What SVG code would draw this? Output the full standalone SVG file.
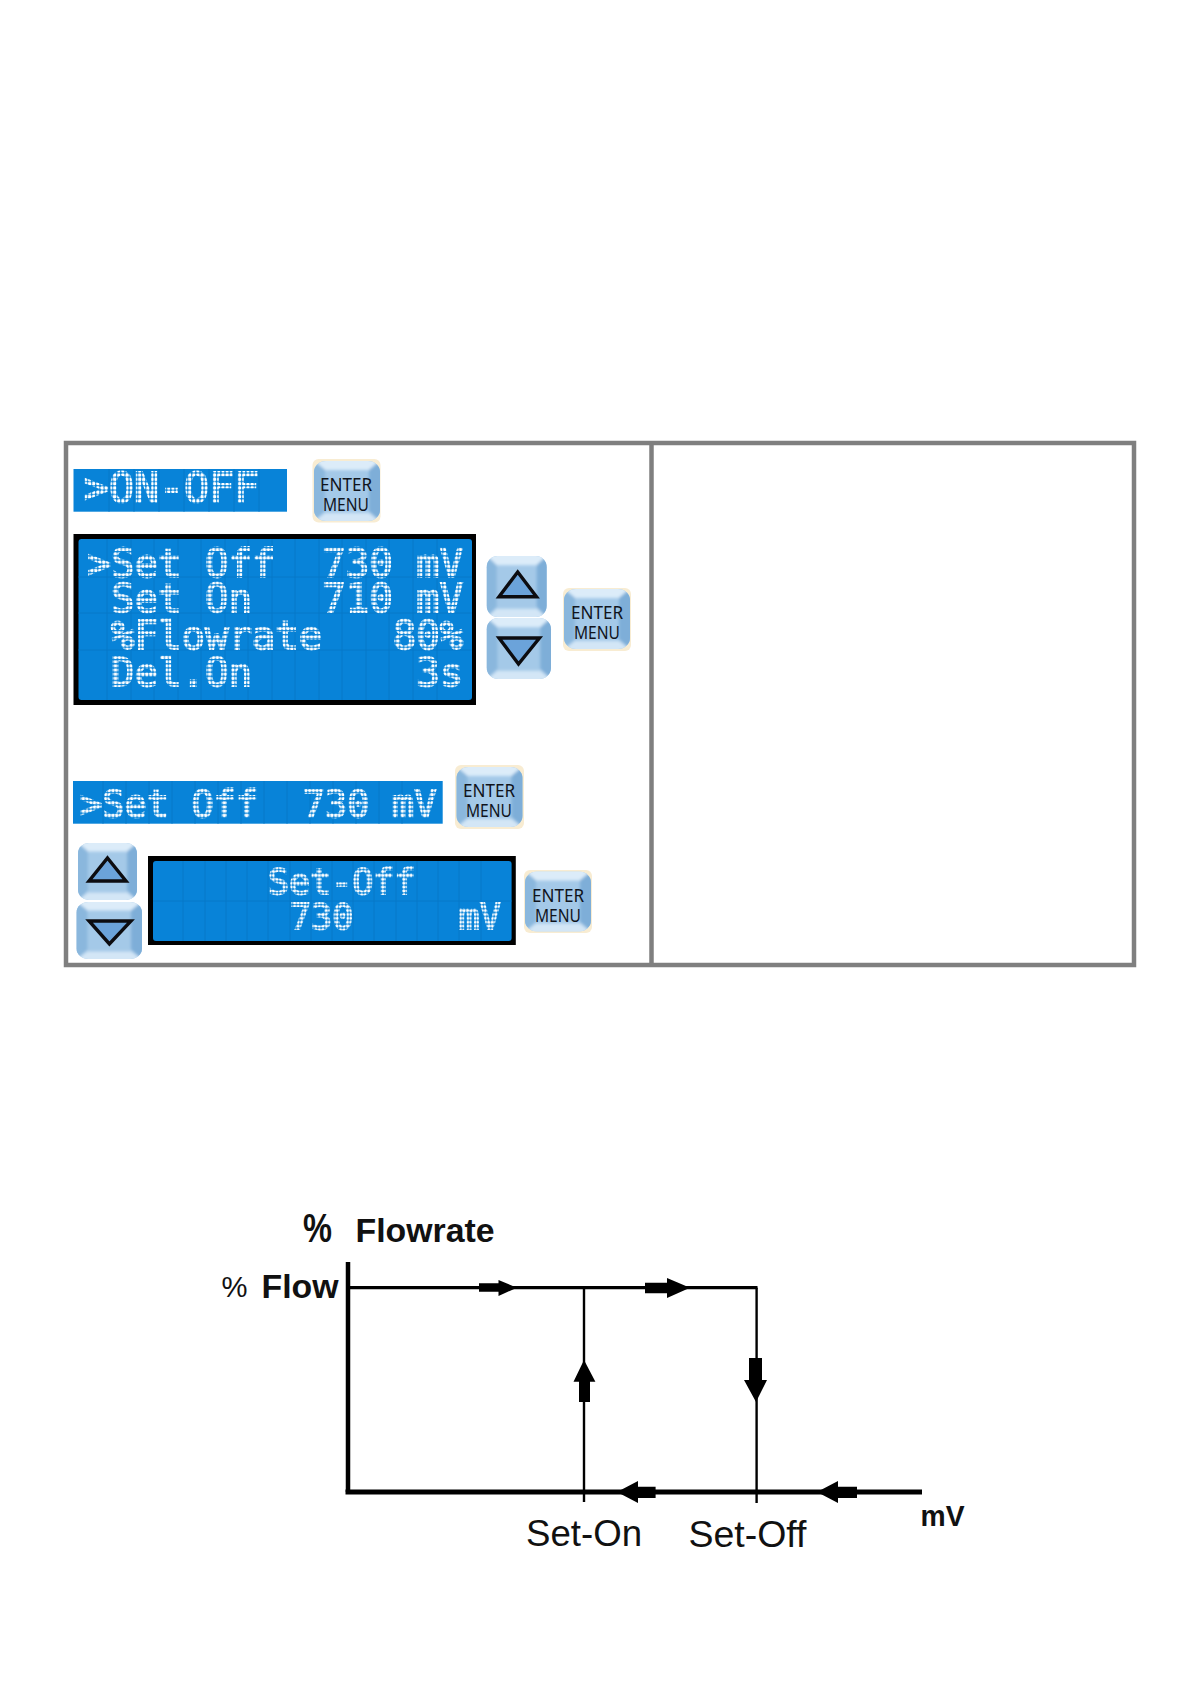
<svg xmlns="http://www.w3.org/2000/svg" width="1191" height="1684" viewBox="0 0 1191 1684">
<style>
.lcd{stroke-width:1.9;font-family:"DejaVu Sans Mono",monospace;white-space:pre;filter:url(#soft)}
.p1{fill:url(#d1);stroke:url(#d1)}
.p2{fill:url(#d2);stroke:url(#d2)}
.p3{fill:url(#d3);stroke:url(#d3)}
.p4{fill:url(#d4);stroke:url(#d4)}
.lcdbg{fill:#0883d8}
.grid{stroke:#0678c8;stroke-width:1;fill:none}
.btxt{font-family:"Noto Sans",sans-serif;font-size:17.5px;fill:#10141c;text-anchor:middle}
.tri{fill:#6ba3da;stroke:#0c0c10;stroke-width:3.4;stroke-linejoin:miter}
.lab{font-family:"Liberation Sans",Arial,sans-serif;fill:#111}
.b{font-weight:bold}
.fr{fill:none;stroke:#7f7f7f;stroke-width:4.5}
.ax{fill:none;stroke:#000}
</style>
<defs>
<pattern id="d1" patternUnits="userSpaceOnUse" width="3.92" height="4.15"><rect x="0.3" y="0.4" width="3" height="3" rx="0.9" fill="#fff"/></pattern>
<pattern id="d2" patternUnits="userSpaceOnUse" width="4.17" height="4.3"><rect x="0.4" y="0.5" width="3.1" height="3.1" rx="0.9" fill="#fff"/></pattern>
<pattern id="d3" patternUnits="userSpaceOnUse" width="3.71" height="4.15"><rect x="0.3" y="0.4" width="2.9" height="3" rx="0.9" fill="#fff"/></pattern>
<pattern id="d4" patternUnits="userSpaceOnUse" width="3.53" height="3.9"><rect x="0.3" y="0.4" width="2.7" height="2.8" rx="0.9" fill="#fff"/></pattern>
<filter id="soft" x="-5%" y="-20%" width="110%" height="140%"><feGaussianBlur stdDeviation="0.22"/></filter>
<filter id="bev" x="-10%" y="-10%" width="120%" height="120%"><feGaussianBlur stdDeviation="1.6"/></filter>
<clipPath id="bc"><rect x="0" y="0" width="60" height="60" rx="11"/></clipPath>
<symbol id="btn" viewBox="0 0 60 60" preserveAspectRatio="none">
<g clip-path="url(#bc)">
<rect x="0" y="0" width="60" height="60" fill="#a4c9e8"/>
<g filter="url(#bev)">
<path d="M-4 -4H64L50 9H10Z" fill="#dcecf9"/>
<path d="M-4 -4L10 9V50L-4 64Z" fill="#8ab7dd"/>
<path d="M64 -4L50 9V50L64 64Z" fill="#7eaed8"/>
<path d="M-4 64L10 52H50L64 64Z" fill="#d3e6f6"/>
</g>
</g>
</symbol>
</defs>
<rect width="1191" height="1684" fill="#fff"/>
<g id="table">
<rect class="fr" x="66" y="443" width="1068" height="522"/>
<line class="fr" x1="651.500" y1="443" x2="651.500" y2="965"/>
</g>
<g id="lcd-on-off">
<rect class="lcdbg" x="73.500" y="469" width="213.500" height="42.700"/>
<path class="grid" d="M109 469V511.700M134 469V511.700M159 469V511.700M184 469V511.700M209 469V511.700M234 469V511.700M259 469V511.700"/>
<text class="lcd p2" x="84" y="501.700" font-size="41.500">&gt;ON-OFF</text>
</g>
<g id="enter-1">
<rect x="312.500" y="459" width="68" height="63.500" rx="6" fill="#f8ecd2"/>
<use href="#btn" x="314" y="461" width="66" height="60"/>
<text class="btxt" x="346" y="491" textLength="52" lengthAdjust="spacingAndGlyphs">ENTER</text><text class="btxt" x="346" y="511" textLength="46" lengthAdjust="spacingAndGlyphs">MENU</text>
</g>
<g id="lcd-main">
<rect x="73.500" y="534" width="402.500" height="171" fill="#000"/>
<rect class="lcdbg" x="78.500" y="539" width="393.500" height="161" rx="3"/>
<path class="grid" d="M78.500 577H472M78.500 613H472M78.500 650H472M107 539V700M131 539V700M154 539V700M178 539V700M201 539V700M225 539V700M248 539V700M272 539V700M295 539V700M319 539V700M342 539V700M366 539V700M389 539V700M413 539V700M437 539V700"/>
<text class="lcd p1" x="87.500" y="576.700" font-size="39">&gt;Set Off  730 mV</text>
<text class="lcd p1" x="87.500" y="611.700" font-size="39"> Set On   710 mV</text>
<text class="lcd p1" x="87.500" y="649" font-size="39"> %Flowrate   80%</text>
<text class="lcd p1" x="87.500" y="685.700" font-size="39"> Del.On       3s</text>
</g>
<g id="up-1">
<use href="#btn" x="486.700" y="556" width="60" height="61"/>
<path class="tri" d="M517.700 572L536.500 596.700H499Z"/>
</g>
<g id="down-1">
<use href="#btn" x="486.700" y="618" width="64.300" height="61"/>
<path class="tri" d="M499 638H539.500L518.500 664Z"/>
</g>
<g id="enter-2">
<rect x="563" y="588" width="68" height="63" rx="6" fill="#f8ecd2"/>
<use href="#btn" x="564" y="589" width="66" height="60"/>
<text class="btxt" x="597" y="619" textLength="52" lengthAdjust="spacingAndGlyphs">ENTER</text><text class="btxt" x="597" y="639" textLength="46" lengthAdjust="spacingAndGlyphs">MENU</text>
</g>
<g id="lcd-set-off">
<rect class="lcdbg" x="73" y="781" width="369.700" height="42.700"/>
<path class="grid" d="M103 781V823.700M126 781V823.700M149 781V823.700M172 781V823.700M195 781V823.700M218 781V823.700M241 781V823.700M264 781V823.700M287 781V823.700M310 781V823.700M333 781V823.700M356 781V823.700M379 781V823.700M402 781V823.700"/>
<text class="lcd p3" x="80" y="816.700" font-size="37">&gt;Set Off  730 mV</text>
</g>
<g id="enter-3">
<rect x="455" y="765" width="69" height="64" rx="6" fill="#f8ecd2"/>
<use href="#btn" x="456.500" y="767" width="66" height="60"/>
<text class="btxt" x="489" y="797" textLength="52" lengthAdjust="spacingAndGlyphs">ENTER</text><text class="btxt" x="489" y="817" textLength="46" lengthAdjust="spacingAndGlyphs">MENU</text>
</g>
<g id="up-2">
<use href="#btn" x="78" y="843" width="59" height="57"/>
<path class="tri" d="M107.500 858L126 881H89Z"/>
</g>
<g id="down-2">
<use href="#btn" x="76.500" y="902" width="65.500" height="57"/>
<path class="tri" d="M89 921H131L109.400 944Z"/>
</g>
<g id="lcd-edit">
<rect x="148" y="856" width="367.800" height="89" fill="#000"/>
<rect class="lcdbg" x="153" y="861" width="358.600" height="80" rx="3"/>
<path class="grid" d="M153 901H511.600M183 861V941M205 861V941M226 861V941M247 861V941M268 861V941M290 861V941M311 861V941M332 861V941M353 861V941M374 861V941M396 861V941M417 861V941M438 861V941M459 861V941M481 861V941"/>
<text class="lcd p4" x="268" y="894.300" font-size="35">Set-Off</text>
<text class="lcd p4" x="290" y="929" font-size="35">730     mV</text>
</g>
<g id="enter-4">
<rect x="524" y="870" width="68" height="63" rx="6" fill="#f8ecd2"/>
<use href="#btn" x="525" y="871.500" width="66" height="60"/>
<text class="btxt" x="558" y="902" textLength="52" lengthAdjust="spacingAndGlyphs">ENTER</text><text class="btxt" x="558" y="922" textLength="46" lengthAdjust="spacingAndGlyphs">MENU</text>
</g>
<g id="chart-connectors">
<path class="ax" stroke-width="4.500" d="M348 1262V1492"/>
<path class="ax" stroke-width="5" d="M345.500 1492H922"/>
<path class="ax" stroke-width="3.200" d="M348 1287.700H757.500"/>
<path class="ax" stroke-width="2.400" d="M584 1287.700V1502"/>
<path class="ax" stroke-width="2.400" d="M756.600 1287.700V1503"/>
<path d="M479 1283.300H498.500V1280L517 1287.700L498.500 1296V1291.700H479Z"/>
<path d="M645 1282.700H667V1278L690 1287.700L667 1298V1293.300H645Z"/>
<path d="M584 1360L595.400 1381.700H590V1402H579V1381.700H573.500Z"/>
<path d="M749 1358H762V1380H767L756 1402L744 1380H749Z"/>
<path d="M617 1492L638 1481V1486.700H655.600V1498H638V1503Z"/>
<path d="M817 1492L838 1481V1486.700H857V1498H838V1503Z"/>
</g>
<g id="chart-labels">
<text class="lab b" x="303" y="1242" font-size="41" textLength="29" lengthAdjust="spacingAndGlyphs">%</text>
<text class="lab b" x="355.500" y="1241.500" font-size="33" textLength="139" lengthAdjust="spacingAndGlyphs">Flowrate</text>
<text class="lab" x="221.500" y="1297" font-size="29" textLength="26" lengthAdjust="spacingAndGlyphs">%</text>
<text class="lab b" x="261.500" y="1298" font-size="33" textLength="77" lengthAdjust="spacingAndGlyphs">Flow</text>
<text class="lab" x="526" y="1546" font-size="37" textLength="116" lengthAdjust="spacingAndGlyphs">Set-On</text>
<text class="lab" x="688.500" y="1546.700" font-size="37" textLength="118" lengthAdjust="spacingAndGlyphs">Set-Off</text>
<text class="lab b" x="920.500" y="1526" font-size="29" textLength="44" lengthAdjust="spacingAndGlyphs">mV</text>
</g>
</svg>
